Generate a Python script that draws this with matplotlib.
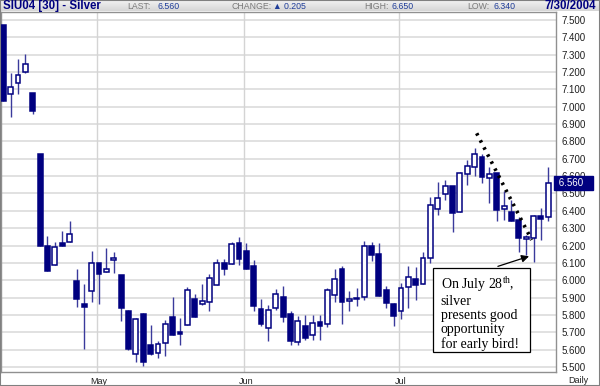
"""
    Daily candlestick chart of the September 2004 silver contract (SIU04),
    with the July 28 annotation.
"""

# ------ Environment Setup ------ #
import numpy as np
import pandas as pd
import matplotlib
matplotlib.use("Agg")
import matplotlib.pyplot as plt
from matplotlib.patches import Rectangle


# ------ Data ------ #
opens = [7.470, 7.073, 7.135, 7.200, 7.078, 6.728, 6.196, 6.085, 6.217, 6.223,
         5.997, 5.865, 5.936, 6.100, 6.047, 6.114, 6.031, 5.824, 5.574, 5.805,
         5.625, 5.583, 5.637, 5.790, 5.702, 5.742, 5.890, 5.864, 5.874, 5.971,
         6.100, 6.092, 6.216, 6.170, 6.082, 5.837, 5.726, 5.841, 5.906, 5.803,
         5.646, 5.734, 5.682, 5.762, 5.745, 5.916, 6.063, 5.879, 5.891, 5.902,
         6.199, 6.151, 5.944, 5.864, 5.825, 5.960, 6.009, 5.976, 6.126, 6.409,
         6.497, 6.543, 6.395, 6.612, 6.654, 6.708, 6.589, 6.616, 6.408, 6.395,
         6.347, 6.238, 6.241, 6.372, 6.362]
highs = [7.470, 7.196, 7.273, 7.304, 7.080, 6.730, 6.257, 6.219, 6.282, 6.344,
         6.062, 5.978, 6.169, 6.100, 6.185, 6.162, 6.031, 5.828, 5.783, 5.810,
         5.744, 5.648, 5.771, 5.905, 5.780, 5.959, 5.920, 5.979, 6.034, 6.121,
         6.123, 6.220, 6.249, 6.213, 6.115, 5.893, 5.858, 5.948, 5.964, 5.820,
         5.791, 5.801, 5.800, 5.797, 5.954, 6.063, 6.082, 5.939, 5.954, 6.226,
         6.222, 6.216, 5.967, 5.870, 5.986, 6.082, 6.078, 6.165, 6.478, 6.568,
         6.578, 6.545, 6.626, 6.693, 6.760, 6.730, 6.655, 6.620, 6.516, 6.462,
         6.366, 6.260, 6.376, 6.414, 6.650]
lows = [7.035, 6.939, 7.073, 7.193, 6.958, 6.196, 6.054, 6.085, 6.198, 6.223,
        5.848, 5.604, 5.876, 5.865, 6.047, 6.043, 5.767, 5.598, 5.528, 5.507,
        5.567, 5.549, 5.566, 5.685, 5.625, 5.742, 5.790, 5.860, 5.824, 5.971,
        6.031, 6.092, 6.086, 6.067, 5.820, 5.734, 5.648, 5.830, 5.757, 5.628,
        5.628, 5.653, 5.653, 5.657, 5.730, 5.877, 5.749, 5.820, 5.852, 5.887,
        6.109, 5.910, 5.841, 5.734, 5.775, 5.838, 5.886, 5.976, 6.101, 6.376,
        6.462, 6.278, 6.395, 6.547, 6.600, 6.562, 6.447, 6.343, 6.347, 6.340,
        6.165, 6.146, 6.107, 6.232, 6.340]
closes = [7.035, 7.112, 7.181, 7.246, 6.977, 6.196, 6.054, 6.192, 6.198, 6.267,
          5.893, 5.844, 6.102, 6.035, 6.062, 6.127, 5.838, 5.604, 5.779, 5.528,
          5.572, 5.633, 5.748, 5.685, 5.692, 5.943, 5.790, 5.883, 6.011, 6.100,
          6.067, 6.209, 6.121, 6.067, 5.849, 5.749, 5.829, 5.918, 5.787, 5.648,
          5.764, 5.669, 5.753, 5.734, 5.944, 6.006, 5.872, 5.893, 5.897, 6.197,
          6.148, 5.910, 5.868, 5.791, 5.954, 6.017, 5.973, 6.126, 6.434, 6.476,
          6.543, 6.390, 6.616, 6.660, 6.727, 6.597, 6.612, 6.405, 6.426, 6.343,
          6.241, 6.251, 6.370, 6.355, 6.560]

# trading days (Apr 14 - Jul 30 2004, exchange holidays removed)
holidays = ["2004-05-31", "2004-06-11", "2004-07-05"]
dates = pd.bdate_range("2004-04-14", "2004-07-30")
dates = dates[~dates.isin(pd.to_datetime(holidays))]

price_ticks = np.round(np.arange(5.5, 7.51, 0.1), 1)

header_items = [("LAST:", "6.560"), ("CHANGE:", "\u25b2 0.205"),
                ("HIGH:", "6.650"), ("LOW:", "6.340")]
title = "SIU04 [30] - Silver"
date_str = "7/30/2004"
note_text = "On July 28$^{\\mathrm{th}}$,\nsilver\npresents good\nopportunity\nfor early bird!"


# ------ Styling ------ #
plt.rcParams["font.family"] = ["Liberation Sans", "DejaVu Sans"]
plt.rcParams["mathtext.fontset"] = "custom"
plt.rcParams["mathtext.rm"] = "Liberation Serif"

navy = "#000080"
wick_col = "#3a3a9c"
grid_col = "#dedede"
W, H = 600, 386


def fx(px):
    return px / W


def fy(py):
    return 1 - py / H


# ------ Plotting ------ #
fig = plt.figure(figsize=(6, 3.86), dpi=100)

# header bar with a soft gradient
hdr = fig.add_axes([0, fy(11.5), 1, 11.5 / H])
grad = np.linspace(0.96, 0.84, 20).reshape(-1, 1)
hdr.imshow(np.dstack([grad, grad, grad]), aspect="auto", extent=[0, 1, 0, 1])
hdr.set_axis_off()

# main price axes
ax = fig.add_axes([fx(1), fy(372), fx(555), (372 - 12) / H])
n = len(closes)
x = np.arange(n)
o, h, l, c = map(np.array, (opens, highs, lows, closes))
up = c >= o

# wicks then bodies
ax.vlines(x, l, h, color=wick_col, lw=1.0, zorder=2)
body_lo = np.minimum(o, c)
body_h = np.maximum(np.abs(c - o), 0.004)
ax.bar(x[up], body_h[up], bottom=body_lo[up], width=0.66,
       color="white", edgecolor=navy, lw=1.1, zorder=3)
ax.bar(x[~up], body_h[~up], bottom=body_lo[~up], width=0.66,
       color=navy, edgecolor=navy, lw=1.1, zorder=3)

ax.set_xlim(-0.31, 75.05)
ax.set_ylim(5.471, 7.546)

# grid: horizontal every 0.1, vertical at month starts
for p in price_ticks:
    ax.axhline(p, color=grid_col, lw=1.3, zorder=0)
month_idx = [i for i in range(1, n) if dates[i].month != dates[i - 1].month]
for i in month_idx:
    ax.axvline(i - 0.25, color="#d4d4d4", lw=1.0, zorder=0)

ax.set_xticks(month_idx)
ax.set_xticklabels([dates[i].strftime("%b") for i in month_idx], fontsize=6.5,
                   color="#202020")
ax.tick_params(axis="x", length=0, pad=3.5)

ax.yaxis.tick_right()
ax.set_yticks(price_ticks)
ax.set_yticklabels([f"{p:.3f}" for p in price_ticks], fontsize=7,
                   color="#202020")
ax.tick_params(axis="y", length=0, pad=4)
for s in ax.spines.values():
    s.set_color("#909090")
    s.set_linewidth(1.0)

# last price marker on the price scale
ax.text(1.0, closes[-1], f" {closes[-1]:.3f}   ",
        transform=ax.get_yaxis_transform(),
        fontsize=7, color="white", va="center", ha="left",
        bbox=dict(boxstyle="square,pad=0.2", fc=navy, ec=navy), zorder=10,
        clip_on=False)

# header texts
fig.text(fx(3), fy(9), title, fontsize=8.3, fontweight="bold", color=navy)
label_x = [127, 231, 364, 467]
value_x = [157, 273, 392, 493]
for (lab, val), lx, vx in zip(header_items, label_x, value_x):
    fig.text(fx(lx), fy(9), lab, fontsize=6.3, color="#7a7a7a")
    fig.text(fx(vx), fy(9), val, fontsize=6.3, color="#1f3d99")
fig.text(fx(596), fy(9), date_str, fontsize=8.3, fontweight="bold", color=navy,
         ha="right")
fig.text(fx(578), fy(383), "Daily", fontsize=6.5, color="#202020", ha="center")

# dotted down-trend line
ax.plot([64.28, 71.75], [6.847, 6.232], color="black", lw=2.6,
        dashes=(0.7, 1.5), zorder=6)

# annotation box and arrow
ax.add_patch(Rectangle((58.35, 5.586), 13.15, 0.485, fc="white", ec="black",
                       lw=0.9, zorder=7))
ax.text(59.4, 6.035, note_text, fontsize=10, family="Liberation Serif",
        va="top", ha="left", linespacing=1.1, zorder=8)
ax.annotate("", xy=(71.75, 6.143), xytext=(66.8, 6.075),
            arrowprops=dict(arrowstyle="-|>", color="black", lw=0.9,
                            mutation_scale=11), zorder=8)

# outer frame
fig.patches.append(Rectangle((0, 0), 1, 1, transform=fig.transFigure,
                             fill=False, ec="#808080", lw=1.5))

plt.savefig("out.png", dpi=100)
